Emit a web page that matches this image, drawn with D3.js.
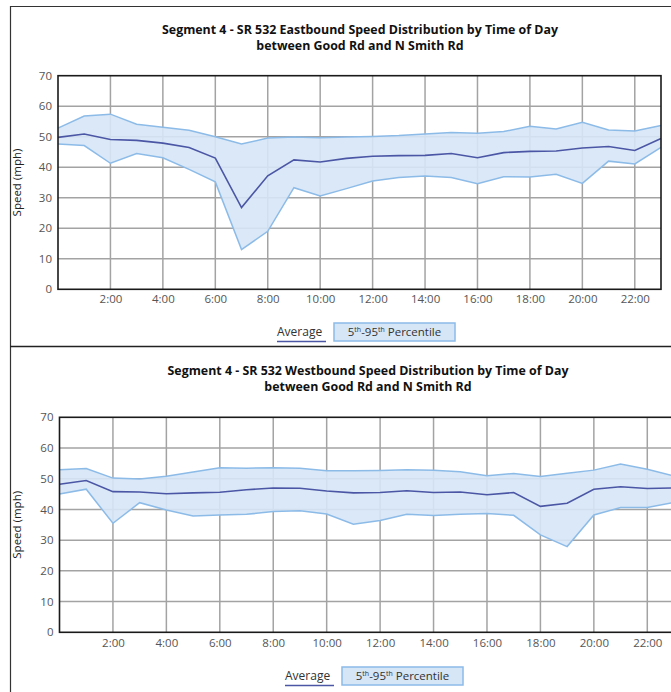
<!DOCTYPE html>
<html>
<head>
<meta charset="utf-8">
<script src="https://cdn.jsdelivr.net/npm/d3@7"></script>
<style>
  html, body { margin: 0; padding: 0; background: #fff; }
  svg { display: block; font-family: "Open Sans", "Noto Sans", sans-serif; }
</style>
</head>
<body>
<svg id="chart" width="671" height="692"></svg>
<script>
// ---------- data ----------
const hours = d3.range(0, 24);
const xTickHours = [2, 4, 6, 8, 10, 12, 14, 16, 18, 20, 22];
const xTickLabels = ["2:00", "4:00", "6:00", "8:00", "10:00", "12:00", "14:00", "16:00", "18:00", "20:00", "22:00"];
const yTicks = [0, 10, 20, 30, 40, 50, 60, 70];

const ebTitle = ["Segment 4 - SR 532 Eastbound Speed Distribution by Time of Day", "between Good Rd and N Smith Rd"];
const ebAverage = [49.8, 50.9, 49.1, 48.8, 47.9, 46.5, 43.0, 26.8, 37.2, 42.4, 41.7, 42.9, 43.6, 43.8, 43.9, 44.5, 43.1, 44.8, 45.2, 45.3, 46.3, 46.8, 45.5, 49.4];
const ebP95 = [52.8, 56.8, 57.4, 54.1, 53.1, 52.1, 50.0, 47.6, 49.6, 49.9, 49.7, 49.9, 50.1, 50.4, 50.9, 51.4, 51.1, 51.7, 53.4, 52.5, 54.7, 52.2, 51.9, 53.7];
const ebP5  = [47.6, 47.1, 41.3, 44.5, 43.1, 39.3, 35.2, 13.0, 19.0, 33.3, 30.6, 33.0, 35.5, 36.6, 37.1, 36.6, 34.6, 36.9, 36.8, 37.7, 34.7, 42.0, 41.1, 46.5];

const wbTitle = ["Segment 4 - SR 532 Westbound Speed Distribution by Time of Day", "between Good Rd and N Smith Rd"];
const wbAverage = [48.2, 49.4, 45.8, 45.7, 45.1, 45.4, 45.6, 46.4, 47.0, 46.9, 46.0, 45.4, 45.5, 46.1, 45.5, 45.7, 44.8, 45.5, 41.0, 42.0, 46.6, 47.4, 46.8, 47.0];
const wbP95 = [52.9, 53.3, 50.2, 49.9, 50.8, 52.2, 53.6, 53.4, 53.6, 53.4, 52.6, 52.6, 52.7, 52.9, 52.8, 52.3, 51.0, 51.7, 50.7, 51.8, 52.8, 54.8, 53.1, 50.9];
const wbP5  = [45.0, 46.6, 35.5, 42.2, 39.8, 37.9, 38.2, 38.4, 39.3, 39.6, 38.5, 35.2, 36.4, 38.4, 38.0, 38.4, 38.7, 38.1, 31.7, 27.9, 38.2, 40.6, 40.6, 42.3];

const yAxisTitle = "Speed (mph)";
const legendAverage = "Average";

// ---------- drawing ----------
const svg = d3.select("#chart");
const C = {
  fill: "#d6e6f6",
  band: "#8cbbe8",
  avg: "#4b56a5",
  grid: "#a3a3a3",
  frame: "#1a1a1a",
  tick: "#555555"
};

// panel frames
svg.append("path")
  .attr("d", "M10.5,692 L10.5,6.5 L671,6.5")
  .attr("fill", "none").attr("stroke", "#333").attr("stroke-width", 1.2);
svg.append("line")
  .attr("x1", 10).attr("x2", 671).attr("y1", 346.5).attr("y2", 346.5)
  .attr("stroke", "#222").attr("stroke-width", 1.6);

function drawChart(cfg) {
  const g = svg.append("g");
  const x = d3.scaleLinear().domain([0, 23]).range([cfg.left, cfg.right]);
  const y = d3.scaleLinear().domain([0, 70]).range([cfg.bottom, cfg.top]);

  // title
  cfg.title.forEach((t, i) => {
    g.append("text")
      .attr("x", cfg.titleX).attr("y", cfg.titleY + i * 15.5)
      .attr("text-anchor", "middle")
      .attr("font-size", 12.4).attr("font-weight", "bold").attr("fill", "#111")
      .text(t);
  });

  // grid
  const grid = g.append("g");
  grid.selectAll("line.h").data(yTicks.filter(v => v > 0 && v < 70)).join("line")
    .attr("x1", cfg.left).attr("x2", cfg.right)
    .attr("y1", d => y(d)).attr("y2", d => y(d))
    .attr("stroke", C.grid).attr("stroke-width", 1.5);
  grid.selectAll("line.v").data(xTickHours).join("line")
    .attr("x1", d => x(d)).attr("x2", d => x(d))
    .attr("y1", cfg.top).attr("y2", cfg.bottom)
    .attr("stroke", C.grid).attr("stroke-width", 1.5);

  // band
  const area = d3.area()
    .x((d, i) => x(hours[i]))
    .y0((d, i) => y(cfg.p5[i]))
    .y1((d, i) => y(cfg.p95[i]));
  g.append("path").datum(cfg.p95)
    .attr("d", area)
    .attr("fill", C.fill).attr("fill-opacity", 0.9);
  const line = d3.line().x((d, i) => x(hours[i])).y(d => y(d));
  g.append("path").datum(cfg.p95).attr("d", line)
    .attr("fill", "none").attr("stroke", C.band).attr("stroke-width", 1.5);
  g.append("path").datum(cfg.p5).attr("d", line)
    .attr("fill", "none").attr("stroke", C.band).attr("stroke-width", 1.5);
  g.append("path").datum(cfg.avg).attr("d", line)
    .attr("fill", "none").attr("stroke", C.avg).attr("stroke-width", 1.6);

  // frame
  g.append("rect")
    .attr("x", cfg.left).attr("y", cfg.top)
    .attr("width", cfg.right - cfg.left).attr("height", cfg.bottom - cfg.top)
    .attr("fill", "none").attr("stroke", C.frame).attr("stroke-width", 1.6);

  // y axis labels
  const yAxis = d3.axisLeft(y).tickValues(yTicks).tickSize(0).tickPadding(6);
  const ya = g.append("g").attr("transform", `translate(${cfg.left},0)`).call(yAxis);
  ya.select(".domain").remove();
  ya.selectAll("text").attr("font-size", 11.5).attr("fill", C.tick)
    .attr("font-family", "'Open Sans', sans-serif");

  // x axis labels
  const xAxis = d3.axisBottom(x).tickValues(xTickHours)
    .tickFormat((d, i) => xTickLabels[i]).tickSize(0).tickPadding(cfg.xPad);
  const xa = g.append("g").attr("transform", `translate(0,${cfg.bottom})`).call(xAxis);
  xa.select(".domain").remove();
  xa.selectAll("text").attr("font-size", 11.5).attr("fill", C.tick)
    .attr("font-family", "'Open Sans', sans-serif");

  // y axis title
  g.append("text")
    .attr("transform", `translate(${cfg.yTitleX},${(cfg.top + cfg.bottom) / 2}) rotate(-90)`)
    .attr("text-anchor", "middle")
    .attr("font-size", 11.5).attr("fill", "#222")
    .text(yAxisTitle);

  // legend
  const lg = g.append("g").attr("transform", `translate(${cfg.legendX},${cfg.legendY})`);
  lg.append("text").attr("x", 0).attr("y", 0)
    .attr("font-size", 12).attr("fill", "#333").text(legendAverage);
  lg.append("line").attr("x1", 0).attr("x2", 49).attr("y1", 5.5).attr("y2", 5.5)
    .attr("stroke", C.avg).attr("stroke-width", 1.6);
  lg.append("rect").attr("x", 57).attr("y", -13).attr("width", 121).attr("height", 18)
    .attr("fill", C.fill).attr("stroke", C.band).attr("stroke-width", 1.5);
  const pt = lg.append("text").attr("x", 117.5).attr("y", 0).attr("text-anchor", "middle")
    .attr("font-size", 11.5).attr("fill", "#333");
  pt.append("tspan").text("5");
  pt.append("tspan").attr("font-size", 7).attr("dy", -4).text("th");
  pt.append("tspan").attr("dy", 4).text("-95");
  pt.append("tspan").attr("font-size", 7).attr("dy", -4).text("th");
  pt.append("tspan").attr("dy", 4).text(" Percentile");
}

drawChart({
  title: ebTitle, titleX: 360, titleY: 34,
  left: 58, right: 661, top: 75.7, bottom: 289.3,
  avg: ebAverage, p95: ebP95, p5: ebP5,
  xPad: 6, yTitleX: 21,
  legendX: 277, legendY: 336
});

drawChart({
  title: wbTitle, titleX: 368, titleY: 375,
  left: 59.5, right: 674, top: 417.3, bottom: 632.3,
  avg: wbAverage, p95: wbP95, p5: wbP5,
  xPad: 7, yTitleX: 21,
  legendX: 285, legendY: 680
});
</script>
</body>
</html>
